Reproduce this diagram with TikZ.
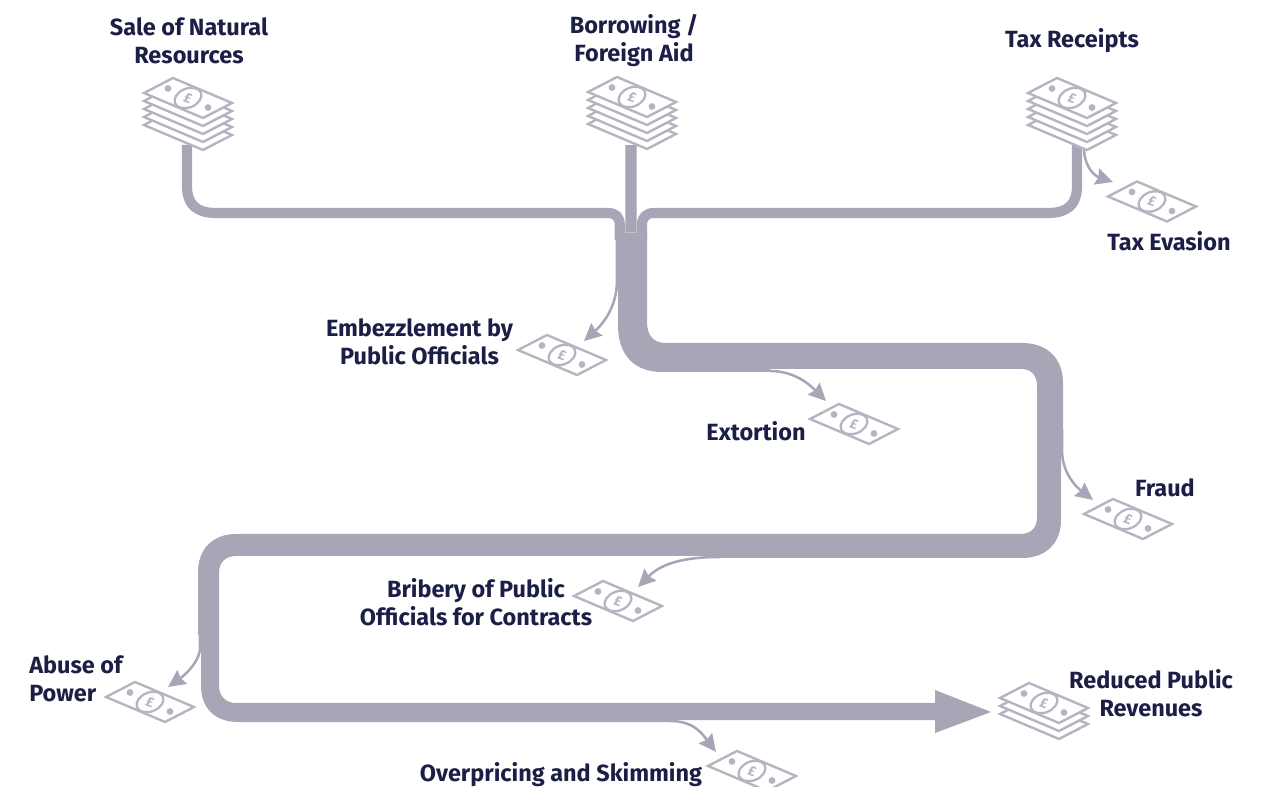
\documentclass[tikz,border=0pt]{standalone}
\usepackage{fontspec}
\setmainfont{Fira Sans}[BoldFont={Fira Sans Bold}]
\usetikzlibrary{arrows.meta}
\definecolor{pipe}{HTML}{A9A5B6}
\definecolor{ink}{HTML}{1B1F45}
\definecolor{edge}{HTML}{B7B4C2}
\definecolor{seam}{HTML}{C3C0CC}
\tikzset{
  x=0.75pt,y=-0.75pt,
  lab/.style={font=\fontsize{17.6}{21}\selectfont\bfseries,text=ink,align=center,inner sep=0pt},
  pipeline/.style={draw=pipe,line width=7.6pt,line cap=butt},
  leak/.style={draw=pipe,line width=1.9pt,-{Stealth[length=13pt,width=12.5pt,inset=1.5pt]}},
  notebody/.style={draw=edge,line width=1.8pt,fill=white,line join=miter},
}
\newcommand{\noteoutline}[2]{%
  \draw[notebody] (#1-44,#2-5) -- (#1-15,#2-20) -- (#1+44,#2+5) -- (#1+15,#2+20) -- cycle;}
\newcommand{\moneynote}[2]{%
  \noteoutline{#1}{#2}
  \fill[edge] (#1-20,#2-9.5) circle[radius=3.4];
  \fill[edge] (#1+20,#2+9.5) circle[radius=3.4];
  \draw[edge,line width=1.7pt,rotate around={22:(#1,#2)}] (#1,#2) ellipse[x radius=14,y radius=9.5];
  \node[text=edge,inner sep=0pt,rotate=-20,font=\fontsize{10.5}{10}\selectfont\bfseries] at (#1,#2) {£};}
\newcommand{\moneystack}[3]{%
  \foreach \k in {#3,...,1}{\noteoutline{#1}{#2+8*\k}}
  \moneynote{#1}{#2}}
\begin{document}
\begin{tikzpicture}
\useasboundingbox (0,0) rectangle (1261,787);
% anchors
\coordinate (saleT) at (187,145);
\coordinate (borT) at (631,145);
\coordinate (taxT) at (1077,145);
\coordinate (saleB) at (619.8,240);
\coordinate (taxB) at (642,240);
\coordinate (head) at (991,712);
% feeder pipes
\draw[pipeline] (saleT) -- (187,186) .. controls (187,205) and (197,213) .. (216,213)
  -- (608,213) .. controls (615.5,213) and (619.8,217) .. (619.8,225) -- (saleB);
\draw[pipeline] (taxT) -- (1077,186) .. controls (1077,205) and (1067,213) .. (1048,213)
  -- (654,213) .. controls (646.5,213) and (642,217) .. (642,225) -- (taxB);
% main pipe
\fill[pipe] (617,232) -- (617,290) -- (618,290) -- (618,325)
  .. controls (618,356) and (635,372) .. (662,372)
  -- (770,372) -- (770,369) -- (1021,369) .. controls (1031,369) and (1037,375) .. (1037,386)
  -- (1037,517) .. controls (1037,528) and (1031,534) .. (1020,534)
  -- (236,534) .. controls (212,534) and (198,550) .. (198,572)
  -- (198,635) -- (201,635)
  -- (201,686) .. controls (201,708) and (215,722) .. (238,722)
  -- (670,722) -- (670,720)
  -- (935,720) -- (935,733) -- (head) -- (935,690) -- (935,703)
  -- (236,703) .. controls (226,703) and (219,696) .. (219,686)
  -- (219,573) .. controls (219,562) and (226,556) .. (236,556)
  -- (720,556) -- (720,558)
  -- (1022,558) .. controls (1046,558) and (1061,543) .. (1061,520)
  -- (1061,435) -- (1063,435)
  -- (1063,383) .. controls (1063,358) and (1047,343) .. (1022,343)
  -- (666,343) .. controls (654,343) and (647,336) .. (647,322)
  -- (647,232) -- cycle;
% central feeder
\draw[draw=seam,fill=pipe,line width=0.5pt] (625.5,145) -- (625.5,232) -- (636.5,232) -- (636.5,145);
% stacks
\moneystack{188}{98}{4}
\moneystack{632}{97}{4}
\moneystack{1072}{98}{4}
\moneystack{1044}{703}{2}
% single notes
\moneynote{1152}{201.5}
\moneynote{562}{355}
\moneynote{854}{424}
\moneynote{1128}{519}
\moneynote{618}{601}
\moneynote{150}{702}
\moneynote{752}{771}
% leak anchors
\coordinate (l1s) at (617,237); \coordinate (l1e) at (584,341);
\coordinate (l2s) at (770,371); \coordinate (l2e) at (826,401);
\coordinate (l3s) at (1062,430); \coordinate (l3e) at (1093,500);
\coordinate (l4s) at (720,557); \coordinate (l4e) at (638,587);
\coordinate (l5s) at (200,635); \coordinate (l5e) at (168,687);
\coordinate (l6s) at (670,721); \coordinate (l6e) at (716,752);
\coordinate (l7s) at (1084,150); \coordinate (l7e) at (1113,182);
\draw[leak] (l1s) -- (617,280) .. controls (617,305) and (605,322) .. (l1e);
\draw[leak] (l2s) .. controls (795,371) and (810,385) .. (l2e);
\draw[leak] (l3s) -- (1062,450) .. controls (1062,472) and (1075,486) .. (l3e);
\draw[leak] (l4s) .. controls (680,557) and (660,565) .. (l4e);
\draw[leak] (l5s) -- (200,650) .. controls (198,663) and (185,675) .. (l5e);
\draw[leak] (l6s) .. controls (695,721) and (703,735) .. (l6e);
\draw[leak] (l7s) .. controls (1085,168) and (1095,176) .. (l7e);
% labels
\node[lab] (a) at (189,40.5) {Sale of Natural\\Resources};
\node[lab] (b) at (634,41) {Borrowing /\\Foreign Aid};
\node[lab] (c) at (1072,41) {Tax Receipts};
\node[lab] (d) at (1169,241) {Tax Evasion};
\node[lab] (e) at (419.5,342) {Embezzlement by\\Public Officials};
\node[lab] (f) at (756,431) {Extortion};
\node[lab] (g) at (1165,488) {Fraud};
\node[lab] (h) at (476,602) {Bribery of Public\\Officials for Contracts};
\node[lab,align=left,anchor=west] (i) at (29,679) {Abuse of\\Power};
\node[lab] (j) at (1151,693) {Reduced Public\\Revenues};
\node[lab] (k) at (561,775) {Overpricing and Skimming};
\end{tikzpicture}
\end{document}
